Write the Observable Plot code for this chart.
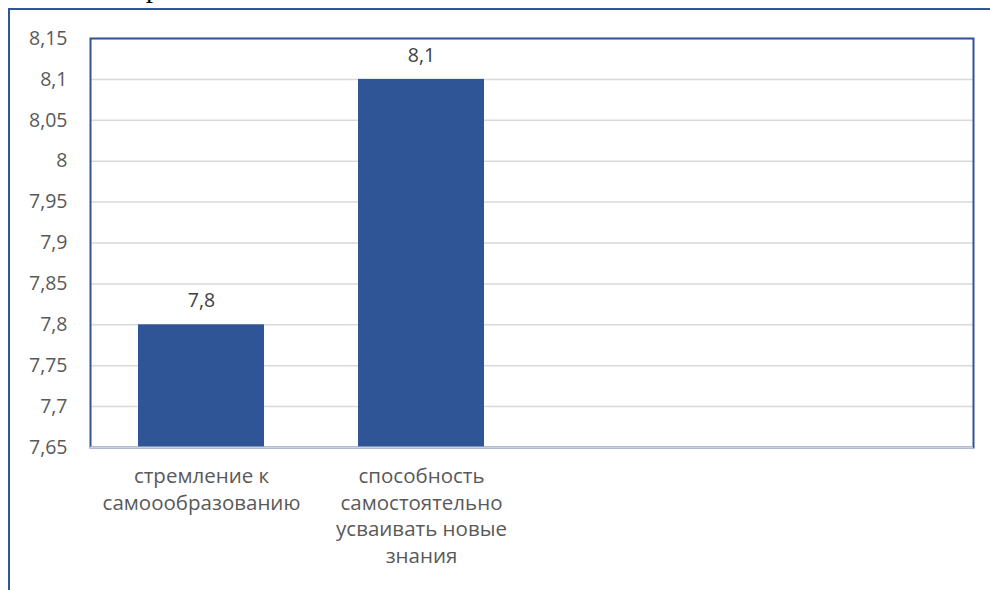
<!DOCTYPE html>
<html><head><meta charset="utf-8">
<script src="https://cdn.jsdelivr.net/npm/d3@7"></script>
<script src="https://cdn.jsdelivr.net/npm/@observablehq/plot@0.6"></script>
<style>
body{margin:0;background:#fff;width:990px;height:590px;overflow:hidden;position:relative;font-family:"Open Sans",sans-serif}
#outer{position:absolute;left:8px;top:8px;width:990px;height:600px;border-top:2px solid #2F5597;border-left:2px solid #2F5597}
#doc{position:absolute;left:146px;top:-28px;font-family:"Liberation Serif",serif;font-size:28px;color:#000}
#chart{position:absolute;left:0;top:0}
</style></head><body>
<div id="doc">р</div>
<div id="outer"></div>
<div id="chart"></div>
<script>
const categories = ["стремление к самоообразованию", "способность самостоятельно усваивать новые знания"];
const labelLines = [["стремление к","самоообразованию"], ["способность","самостоятельно","усваивать новые","знания"]];
const values = [7.8, 8.1];
const spacers = ["_3", "_4"];
const yMin = 7.65, yMax = 8.15;
const yTicks = [7.65,7.7,7.75,7.8,7.85,7.9,7.95,8,8.05,8.1,8.15];

const data = categories.map((c,i)=>({cat:c, value:values[i], base:yMin, label:labelLines[i].join("\n")}));
const fmt = v => String(+v.toFixed(2)).replace(".", ",");
const blue = "#2F5597";
const fs = 19.5;
const fsx = 20.5;

const chart = Plot.plot({
  width: 990, height: 590,
  marginLeft: 90, marginTop: 38, marginRight: 17, marginBottom: 143,
  style: {fontFamily: "'Open Sans', sans-serif", fontSize: fs + "px", color: "#595959", background: "transparent", overflow: "visible"},
  x: {domain: [...categories, ...spacers], paddingInner: 0.425, paddingOuter: 0.2125, axis: null},
  y: {domain: [yMin, yMax], ticks: yTicks, tickFormat: fmt, label: null},
  marks: [
    Plot.gridY(yTicks, {stroke: "#d9d9d9", strokeOpacity: 1, strokeWidth: 1.5}),
    Plot.axisY(yTicks, {tickSize: 0, tickPadding: 23, tickFormat: fmt, label: null, fill: "#595959", fontSize: fs}),
    Plot.barY(data, {x: "cat", y1: "base", y2: "value", fill: blue}),
    Plot.text(data, {x: "cat", y: "value", text: d => fmt(d.value), dy: -24, fill: "#404040", fontSize: fs}),
    Plot.text(data, {x: "cat", y: "base", text: "label", lineAnchor: "top", dy: 17, lineHeight: 1.29, fill: "#595959", fontSize: fsx}),
    Plot.frame({stroke: blue, strokeWidth: 2}),
    Plot.ruleY([yMin], {stroke: "#c9d1de", strokeWidth: 2})
  ]
});
document.getElementById("chart").append(chart);
</script>
</body></html>
